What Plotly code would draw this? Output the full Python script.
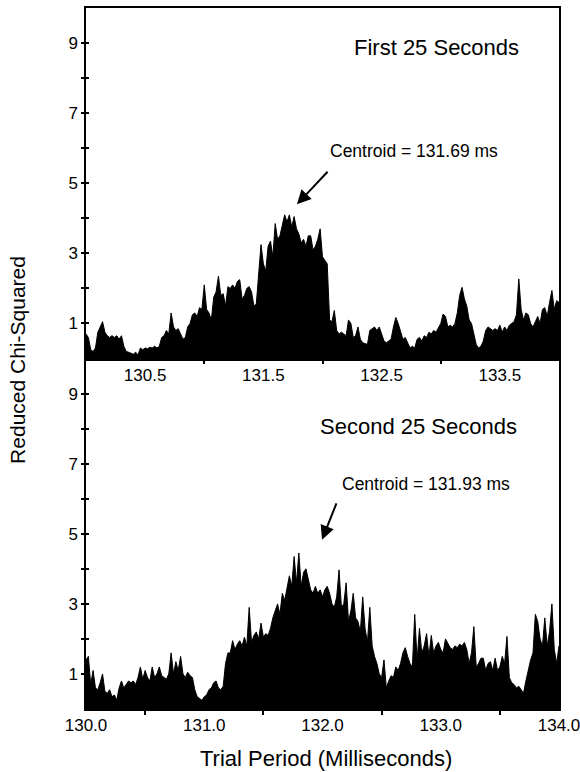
import plotly.graph_objects as go

# ---- data ----
period_start = 130.0   # ms
period_step = 0.02     # ms, trial-period sampling

first_25s = [
    0.7, 0.6, 0.25, 0.2, 0.3, 0.75, 0.9, 1.05, 0.75, 0.65,
    0.6, 0.65, 0.6, 0.65, 0.55, 0.65, 0.35, 0.2, 0.18, 0.15,
    0.12, 0.18, 0.1, 0.3, 0.25, 0.3, 0.28, 0.32, 0.3, 0.35,
    0.3, 0.35, 0.6, 0.65, 0.8, 0.7, 1.3, 0.9, 0.8, 0.85,
    0.7, 0.55, 0.6, 0.9, 1.0, 1.25, 1.3, 1.2, 1.45, 1.4,
    2.1, 1.4, 1.3, 1.1, 1.75, 1.9, 2.35, 1.8, 1.85, 1.5,
    2.05, 2.0, 2.1, 2.0, 2.2, 2.25, 1.7, 1.8, 2.0, 2.05,
    1.9, 1.5, 1.55, 2.3, 3.25, 2.7, 2.5, 3.2, 3.35, 2.9,
    3.85, 3.4, 3.5, 3.8, 4.1, 3.9, 4.1, 3.75, 4.05, 3.7,
    3.55, 3.3, 3.4, 3.2, 3.5, 3.5, 3.1, 3.2, 3.4, 3.7,
    2.9, 2.8, 2.7, 1.1, 1.05, 1.37, 0.8, 0.7, 0.75, 0.7,
    0.65, 1.1, 1.0, 0.6, 0.65, 0.9, 0.55, 0.45, 0.42, 0.4,
    0.8, 0.85, 0.9, 0.8, 0.9, 0.7, 0.5, 0.45, 0.5, 0.55,
    0.9, 1.17, 1.0, 0.8, 0.55, 0.6, 0.45, 0.3, 0.35, 0.3,
    0.55, 0.6, 0.5, 0.65, 0.6, 0.75, 0.7, 0.8, 0.75, 0.9,
    1.0, 1.27, 1.2, 0.9, 0.95, 0.9, 1.0, 1.3, 1.8, 2.03,
    1.7, 1.5, 1.1, 1.0, 0.7, 0.4, 0.3, 0.35, 0.5, 0.8,
    0.9, 0.85, 0.8, 0.85, 0.8, 0.95, 0.75, 0.9, 0.8, 0.95,
    1.0, 1.05, 1.25, 2.27, 1.4, 1.1, 1.3, 1.25, 1.0, 0.9,
    1.05, 1.2, 1.0, 1.4, 1.45, 1.2, 1.6, 1.94, 1.4, 1.65,
    1.6,
]

second_25s = [
    1.4, 1.5, 0.7, 1.1, 0.6, 0.55, 0.75, 1.0, 0.5, 0.45,
    0.55, 0.35, 0.4, 0.25, 0.6, 0.8, 0.6, 0.7, 0.8, 0.75,
    0.8, 0.7, 0.9, 1.2, 0.85, 1.1, 0.9, 0.8, 1.2, 0.9,
    1.0, 1.2, 0.95, 0.9, 0.85, 1.0, 1.6, 1.0, 1.35, 1.1,
    1.5, 1.0, 0.9, 1.05, 0.95, 0.9, 0.55, 0.35, 0.3, 0.25,
    0.35, 0.4, 0.55, 0.6, 0.75, 0.8, 0.6, 0.55, 0.65, 1.3,
    1.6, 1.6, 1.95, 1.7, 1.85, 1.95, 1.8, 2.05, 1.8, 2.9,
    1.9, 2.1, 2.2, 2.0, 2.45, 2.05, 2.15, 2.1, 2.3, 2.6,
    2.8, 3.0, 2.7, 3.3, 3.1, 3.45, 3.8, 3.5, 4.35, 3.6,
    4.45, 3.5, 3.9, 4.0, 3.7, 3.4, 3.3, 3.5, 3.3, 3.4,
    3.2, 3.4, 3.5, 3.3, 3.0, 2.9, 3.2, 3.97, 2.9, 3.0,
    3.6, 2.5, 2.8, 3.3, 2.6, 2.5, 2.2, 3.2, 2.3, 1.9,
    2.9, 1.8, 1.5, 1.3, 1.0, 0.9, 1.4, 0.6, 0.8, 0.95,
    0.9, 1.2, 1.1, 1.3, 1.6, 1.75, 1.5, 1.3, 1.2, 2.7,
    1.4, 2.3, 1.6, 1.8, 2.15, 1.5, 2.1, 1.6, 1.8, 1.9,
    1.7, 1.6, 2.0, 1.85, 1.75, 1.7, 1.8, 1.75, 1.85, 1.8,
    1.9, 1.7, 1.3, 1.6, 2.35, 1.2, 1.3, 1.45, 1.45, 1.1,
    1.3, 1.35, 1.1, 1.45, 1.1, 1.2, 1.5, 1.3, 2.07, 0.9,
    0.75, 0.7, 0.6, 0.65, 0.55, 0.45, 0.8, 1.1, 1.4, 1.6,
    2.7, 2.5, 2.0, 1.8, 2.6, 1.8, 2.2, 3.0, 1.7, 1.3,
    1.8,
]

top_xlabels = ["130.5", "131.5", "132.5", "133.5"]
top_xlabel_pos = [130.5, 131.5, 132.5, 133.5]
bottom_xlabels = ["130.0", "131.0", "132.0", "133.0", "134.0"]
bottom_xlabel_pos = [130.0, 131.0, 132.0, 133.0, 134.0]
y_tick_pos = [1, 2, 3, 4, 5, 6, 7, 8, 9]
y_tick_text = ["1", "", "3", "", "5", "", "7", "", "9"]

panel_titles = ["First 25 Seconds", "Second 25 Seconds"]
centroid_labels = ["Centroid = 131.69 ms", "Centroid = 131.93 ms"]

# ---- figure ----
FONT = "Liberation Sans, Arial, Helvetica, sans-serif"


def grid(vals):
    return [round(period_start + period_step * i, 2) for i in range(len(vals))]


fig = go.Figure()
fig.add_trace(go.Scatter(x=grid(first_25s), y=first_25s, mode="lines",
                         line=dict(color="black", width=1),
                         fill="tozeroy", fillcolor="black",
                         xaxis="x", yaxis="y", showlegend=False))
fig.add_trace(go.Scatter(x=grid(second_25s), y=second_25s, mode="lines",
                         line=dict(color="black", width=1),
                         fill="tozeroy", fillcolor="black",
                         xaxis="x2", yaxis="y2", showlegend=False))

axis_common = dict(showline=True, linecolor="black", linewidth=1.5,
                   mirror=True, showgrid=False, zeroline=False,
                   automargin=False, ticklabeloverflow="allow",
                   tickfont=dict(family=FONT, size=17, color="black"))

fig.update_layout(
    width=580, height=772,
    margin=dict(l=86, r=21, t=8, b=63, autoexpand=False),
    paper_bgcolor="white", plot_bgcolor="rgba(0,0,0,0)",
    font=dict(family=FONT, color="black"),
    xaxis=dict(domain=[0, 1], range=[130, 134], anchor="y",
               tickmode="array", tickvals=top_xlabel_pos, ticktext=top_xlabels,
               ticks="outside", ticklen=0,
               minor=dict(tickvals=[131, 132, 133], ticks="outside",
                          ticklen=4, tickcolor="black", tickwidth=1.5),
               **axis_common),
    yaxis=dict(domain=[0.5, 1], range=[0, 10], anchor="x",
               tickmode="array", tickvals=y_tick_pos, ticktext=y_tick_text,
               ticks="outside", ticklen=3, tickwidth=1.5, tickcolor="black",
               **axis_common),
    yaxis3=dict(overlaying="y", range=[0, 10], anchor="x",
                tickmode="array", tickvals=y_tick_pos, showticklabels=False,
                ticks="inside", ticklen=3, tickwidth=1.5, tickcolor="black",
                showline=False, showgrid=False, zeroline=False),
    xaxis2=dict(domain=[0, 1], range=[130, 134], anchor="y2",
                tickmode="array", tickvals=bottom_xlabel_pos,
                ticktext=bottom_xlabels,
                ticks="outside", ticklen=0,
                minor=dict(tickvals=[130.5, 131.5, 132.5, 133.5],
                           ticks="outside", ticklen=4, tickcolor="black",
                           tickwidth=1.5),
                **axis_common),
    yaxis2=dict(domain=[0, 0.5], range=[0, 10], anchor="x2",
                tickmode="array", tickvals=y_tick_pos, ticktext=y_tick_text,
                ticks="outside", ticklen=3, tickwidth=1.5, tickcolor="black",
                **axis_common),
    yaxis4=dict(overlaying="y2", range=[0, 10], anchor="x2",
                tickmode="array", tickvals=y_tick_pos, showticklabels=False,
                ticks="inside", ticklen=3, tickwidth=1.5, tickcolor="black",
                showline=False, showgrid=False, zeroline=False),
)

# dummy traces so overlay axes render
fig.add_trace(go.Scatter(x=[130], y=[None], xaxis="x", yaxis="y3",
                         showlegend=False, hoverinfo="skip"))
fig.add_trace(go.Scatter(x=[130], y=[None], xaxis="x2", yaxis="y4",
                         showlegend=False, hoverinfo="skip"))

# panel titles
fig.add_annotation(x=132.968, y=8.86, xref="x", yref="y", text=panel_titles[0],
                   showarrow=False, font=dict(family=FONT, size=22),
                   xanchor="center", yanchor="middle")
fig.add_annotation(x=132.816, y=8.06, xref="x2", yref="y2", text=panel_titles[1],
                   showarrow=False, font=dict(family=FONT, size=22),
                   xanchor="center", yanchor="middle")
# centroid labels
fig.add_annotation(x=132.774, y=5.93, xref="x", yref="y", text=centroid_labels[0],
                   showarrow=False, font=dict(family=FONT, size=17.5),
                   xanchor="center", yanchor="middle")
fig.add_annotation(x=132.875, y=6.43, xref="x2", yref="y2", text=centroid_labels[1],
                   showarrow=False, font=dict(family=FONT, size=17.5),
                   xanchor="center", yanchor="middle")
# arrows
fig.add_annotation(x=131.784, y=4.40, ax=132.055, ay=5.37, xref="x", yref="y",
                   axref="x", ayref="y", text="", showarrow=True,
                   arrowhead=2, arrowsize=1.4, arrowwidth=2, arrowcolor="black")
fig.add_annotation(x=131.996, y=4.83, ax=132.123, ay=5.91, xref="x2", yref="y2",
                   axref="x2", ayref="y2", text="", showarrow=True,
                   arrowhead=2, arrowsize=1.4, arrowwidth=2, arrowcolor="black")

# axis titles
fig.add_annotation(x=-0.1438, y=0.498, xref="paper", yref="paper",
                   text="Reduced Chi-Squared", textangle=-90, showarrow=False,
                   font=dict(family=FONT, size=21),
                   xanchor="center", yanchor="middle")
fig.add_annotation(x=0.507, y=-0.07, xref="paper", yref="paper",
                   text="Trial Period (Milliseconds)", showarrow=False,
                   font=dict(family=FONT, size=22),
                   xanchor="center", yanchor="middle")

fig.write_html("out.html",
               config={"displayModeBar": False},
               post_script="document.body.style.margin='0px';"
                           "document.body.style.overflow='hidden';")
